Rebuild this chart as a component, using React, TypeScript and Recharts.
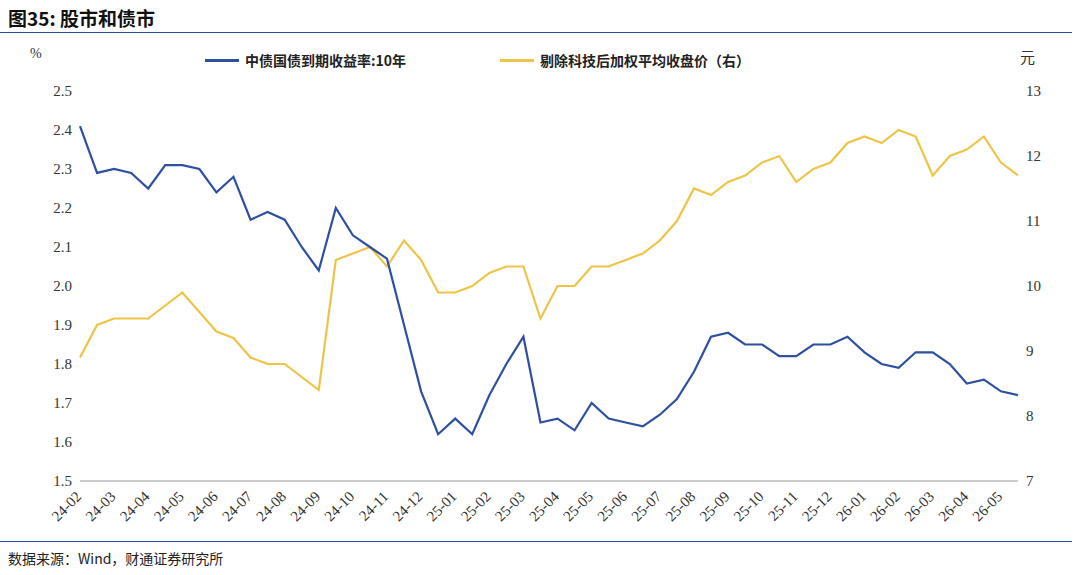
import React from 'react';
import { LineChart, Line, XAxis, YAxis } from 'recharts';

const months = ['24-02','24-03','24-04','24-05','24-06','24-07','24-08','24-09','24-10','24-11','24-12','25-01','25-02','25-03','25-04','25-05','25-06','25-07','25-08','25-09','25-10','25-11','25-12','26-01','26-02','26-03','26-04','26-05'];

// half-month sampling points
const periods = ['24-02','24-02b','24-03','24-03b','24-04','24-04b','24-05','24-05b','24-06','24-06b','24-07','24-07b','24-08','24-08b','24-09','24-09b','24-10','24-10b','24-11','24-11b','24-12','24-12b','25-01','25-01b','25-02','25-02b','25-03','25-03b','25-04','25-04b','25-05','25-05b','25-06','25-06b','25-07','25-07b','25-08','25-08b','25-09','25-09b','25-10','25-10b','25-11','25-11b','25-12','25-12b','26-01','26-01b','26-02','26-02b','26-03','26-03b','26-04','26-04b','26-05','26-05b'];

const bondYield = [2.41,2.29,2.30,2.29,2.25,2.31,2.31,2.30,2.24,2.28,2.17,2.19,2.17,2.10,2.04,2.20,2.13,2.10,2.07,1.90,1.73,1.62,1.66,1.62,1.72,1.80,1.87,1.65,1.66,1.63,1.70,1.66,1.65,1.64,1.67,1.71,1.78,1.87,1.88,1.85,1.85,1.82,1.82,1.85,1.85,1.87,1.83,1.80,1.79,1.83,1.83,1.80,1.75,1.76,1.73,1.72];

const stockPrice = [8.9,9.4,9.5,9.5,9.5,9.7,9.9,9.6,9.3,9.2,8.9,8.8,8.8,8.6,8.4,10.4,10.5,10.6,10.3,10.7,10.4,9.9,9.9,10.0,10.2,10.3,10.3,9.5,10.0,10.0,10.3,10.3,10.4,10.5,10.7,11.0,11.5,11.4,11.6,11.7,11.9,12.0,11.6,11.8,11.9,12.2,12.3,12.2,12.4,12.3,11.7,12.0,12.1,12.3,11.9,11.7];

const leftTicks = [1.5,1.6,1.7,1.8,1.9,2.0,2.1,2.2,2.3,2.4,2.5];
const rightTicks = [7,8,9,10,11,12,13];

const data = periods.map((p, i) => ({ p, bond: bondYield[i], stock: stockPrice[i] }));

const BLUE = '#2f4fa0';
const GOLD = '#eec447';
const font = '"Liberation Serif", serif';

const XTick = (props: any) => {
  const { x, y, payload } = props;
  return (
    <text x={x} y={y + 6} transform={`rotate(-45 ${x} ${y + 6})`} textAnchor="end" dominantBaseline="middle" fontSize={15} fill="#333" fontFamily={font}>
      {payload.value}
    </text>
  );
};

export default function App() {
  return (
    <div style={{ position: 'absolute', left: 0, top: 0, width: 1080, height: 575, background: '#fff', fontFamily: font }}>
      <div style={{ position: 'absolute', left: 8, top: 4, fontSize: 19, fontWeight: 'bold', fontFamily: '"Noto Sans CJK SC", sans-serif', color: '#111' }}>图35: 股市和债市</div>
      <div style={{ position: 'absolute', left: 0, top: 32, width: 1072, height: 1, background: '#2f4fa0' }} />
      <div style={{ position: 'absolute', left: 30, top: 46, fontSize: 14, color: '#333' }}>%</div>
      <div style={{ position: 'absolute', left: 1020, top: 46, fontSize: 15, color: '#333', fontFamily: '"Noto Sans CJK SC", sans-serif' }}>元</div>
      <div style={{ position: 'absolute', left: 205, top: 50, fontSize: 14, fontWeight: 'bold', color: '#222', fontFamily: '"Noto Sans CJK SC", sans-serif', display: 'flex', alignItems: 'center' }}>
        <span style={{ display: 'inline-block', width: 34, height: 3, background: BLUE, marginRight: 6 }} />中债国债到期收益率:10年
        <span style={{ display: 'inline-block', width: 34, height: 3, background: GOLD, marginLeft: 94, marginRight: 6 }} />剔除科技后加权平均收盘价（右）
      </div>
      <div style={{ position: 'absolute', left: 0, top: 0 }}>
        <LineChart width={1080} height={540} data={data} margin={{ top: 91, left: 30, right: 12, bottom: 4 }}>
          <XAxis dataKey="p" ticks={months} interval={0} tick={<XTick />} height={55} stroke="#999" tickLine={false} />
          <YAxis yAxisId="l" domain={[1.5, 2.5]} ticks={leftTicks} width={50} axisLine={false} tickLine={false} tickFormatter={(v: number) => v.toFixed(1)} tick={{ fontSize: 15, fill: '#333', fontFamily: font }} />
          <YAxis yAxisId="r" orientation="right" domain={[7, 13]} ticks={rightTicks} width={50} axisLine={false} tickLine={false} tick={{ fontSize: 15, fill: '#333', fontFamily: font }} />
          <Line yAxisId="r" dataKey="stock" stroke={GOLD} strokeWidth={2.2} dot={false} isAnimationActive={false} />
          <Line yAxisId="l" dataKey="bond" stroke={BLUE} strokeWidth={2.2} dot={false} isAnimationActive={false} />
        </LineChart>
      </div>
      <div style={{ position: 'absolute', left: 0, top: 541, width: 1072, height: 1, background: '#2f4fa0' }} />
      <div style={{ position: 'absolute', left: 8, top: 548, fontSize: 14, color: '#222', fontFamily: '"Noto Sans CJK SC", sans-serif' }}>数据来源：Wind，财通证券研究所</div>
    </div>
  );
}
